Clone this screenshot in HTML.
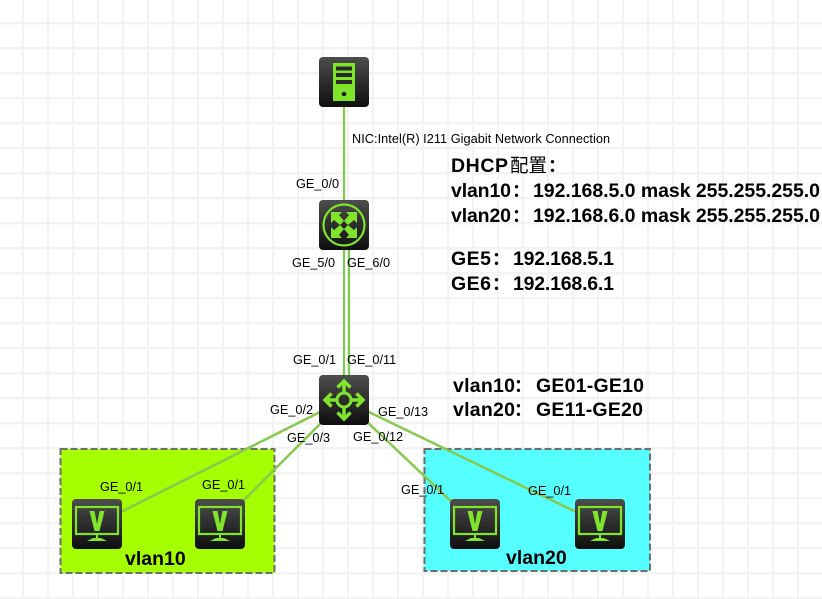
<!DOCTYPE html>
<html lang="zh-CN"><head><meta charset="utf-8">
<style>
html,body{margin:0;padding:0;background:#fff}
svg{display:block}
text{font-family:"Liberation Sans","Noto Sans CJK SC",sans-serif;fill:#000}
.l{font-size:12.7px}
.b{font-size:19.500px;font-weight:bold}
.c{font-size:18px;font-weight:bold;font-family:"Noto Sans CJK SC",sans-serif}
.k{font-size:18.500px;font-weight:normal;font-family:"Noto Sans CJK SC",sans-serif}
.g{font-size:19.500px;font-weight:bold}
</style></head>
<body>
<svg width="822" height="599" viewBox="0 0 822 599" xmlns="http://www.w3.org/2000/svg">
<defs>
<pattern id="grid" width="25" height="25" patternUnits="userSpaceOnUse" x="22" y="22">
<rect x="0" y="0" width="2" height="25" fill="#f3f3f3"/>
<rect x="0" y="0" width="25" height="2.500" fill="#f3f3f3"/>
</pattern>
<linearGradient id="n" x1="0" y1="0" x2="0" y2="1">
<stop offset="0" stop-color="#4d4d4d"/><stop offset="1" stop-color="#0e0e0e"/>
</linearGradient>
<g id="pc">
<rect width="50" height="50" rx="4" fill="url(#n)"/>
<rect x="4" y="8" width="42" height="27" fill="none" stroke="#7fe52b" stroke-width="2.200"/>
<path d="M17.500 12h5l2.500 13 2.500-13h5l-5 20h-5z" fill="#7fe52b"/>
<rect x="24" y="35" width="2" height="4" fill="#7fe52b"/>
<path d="M15 42l6-3h8l6 3z" fill="#7fe52b"/>
</g>
</defs>
<rect width="822" height="599" fill="url(#grid)"/>

<rect x="60.500" y="449" width="214" height="124" fill="#a6ff00" stroke="#6e6e6e" stroke-width="2" stroke-dasharray="7 3"/>
<rect x="424.500" y="449" width="225.500" height="122" fill="#55ffff" stroke="#6e6e6e" stroke-width="2" stroke-dasharray="7 3"/>

<g stroke="#7dcb4e" stroke-width="2.200" fill="none">
<line x1="344" y1="100" x2="344" y2="225"/>
<line x1="344" y1="225" x2="344" y2="400"/>
<line x1="349" y1="225" x2="349" y2="400"/>
</g>
<g stroke="#86c94f" stroke-width="2.500" fill="none">
<line x1="344" y1="400" x2="97" y2="524"/>
<line x1="344" y1="400" x2="220" y2="524"/>
<line x1="344" y1="400" x2="475" y2="524"/>
<line x1="344" y1="400" x2="601" y2="524"/>
</g>

<g transform="translate(319,57)">
<rect width="50" height="50" rx="4" fill="url(#n)"/>
<rect x="14" y="6" width="22" height="38" fill="#7fe52b"/>
<rect x="17" y="9.500" width="16" height="4" fill="#2b2b2b"/>
<rect x="17" y="16" width="16" height="4" fill="#2b2b2b"/>
<rect x="17" y="23" width="16" height="4" fill="#2b2b2b"/>
<circle cx="25" cy="37" r="2.300" fill="#1b1b1b"/>
</g>

<g transform="translate(319,200)">
<rect width="50" height="50" rx="4" fill="url(#n)"/>
<circle cx="25" cy="25" r="20.500" fill="none" stroke="#7fe52b" stroke-width="2.200"/>
<g fill="#7fe52b">
<path d="M12 12h11l-3 3 5 6 5-6-3-3h11v11l-3-3-6 5 6 5 3-3v11h-11l3-3-5-6-5 6 3 3h-11v-11l3 3 6-5-6-5-3 3z"/>
</g>
<path d="M25 21l4 4-4 4-4-4z" fill="#2a2a2a"/>
</g>

<g transform="translate(319,375)">
<rect width="50" height="50" rx="4" fill="url(#n)"/>
<circle cx="25" cy="25" r="7" fill="none" stroke="#7fe52b" stroke-width="3"/>
<g fill="none" stroke="#7fe52b" stroke-width="3.500">
<path d="M25 17V7M18.500 12.500L25 6l6.500 6.500"/>
<path d="M25 33v10M18.500 37.500L25 44l6.500-6.500"/>
<path d="M17 25H7M12.500 18.500L6 25l6.500 6.500"/>
<path d="M33 25h10M37.500 18.500L44 25l-6.500 6.500"/>
</g>
</g>

<use href="#pc" x="72" y="499"/>
<use href="#pc" x="195" y="499"/>
<use href="#pc" x="450" y="499"/>
<use href="#pc" x="575" y="499"/>

<text class="l" x="352" y="143" textLength="258">NIC:Intel(R) I211 Gigabit Network Connection</text>
<text class="l" x="296" y="188">GE_0/0</text>
<text class="l" x="292" y="267">GE_5/0</text>
<text class="l" x="347" y="267">GE_6/0</text>
<text class="l" x="293" y="364">GE_0/1</text>
<text class="l" x="347" y="364">GE_0/11</text>
<text class="l" x="270" y="414">GE_0/2</text>
<text class="l" x="378" y="416">GE_0/13</text>
<text class="l" x="287" y="442">GE_0/3</text>
<text class="l" x="353" y="441">GE_0/12</text>
<text class="l" x="100" y="491">GE_0/1</text>
<text class="l" x="202" y="489">GE_0/1</text>
<text class="l" x="401" y="494">GE_0/1</text>
<text class="l" x="528" y="495">GE_0/1</text>

<text class="b" x="451" y="172" textLength="57">DHCP</text>
<text class="k" x="510" y="172">配置</text>
<text class="c" x="548" y="172">：</text>

<text class="b" x="451" y="197" textLength="60">vlan10</text>
<text class="c" x="512" y="197">：</text>
<text class="b" x="533" y="197" textLength="287">192.168.5.0 mask 255.255.255.0</text>

<text class="b" x="451" y="222" textLength="60">vlan20</text>
<text class="c" x="512" y="222">：</text>
<text class="b" x="533" y="222" textLength="287">192.168.6.0 mask 255.255.255.0</text>

<text class="b" x="451" y="265" textLength="40">GE5</text>
<text class="c" x="492" y="265">：</text>
<text class="b" x="513" y="265" textLength="101">192.168.5.1</text>

<text class="b" x="451" y="290" textLength="40">GE6</text>
<text class="c" x="492" y="290">：</text>
<text class="b" x="513" y="290" textLength="101">192.168.6.1</text>

<text class="b" x="453" y="392" textLength="62">vlan10</text>
<text class="c" x="514" y="392">：</text>
<text class="b" x="536" y="392" textLength="108">GE01-GE10</text>

<text class="b" x="453" y="416" textLength="62">vlan20</text>
<text class="c" x="514" y="416">：</text>
<text class="b" x="536" y="416" textLength="107">GE11-GE20</text>

<text class="g" x="125" y="565">vlan10</text>
<text class="g" x="506" y="564">vlan20</text>
</svg>
</body></html>
